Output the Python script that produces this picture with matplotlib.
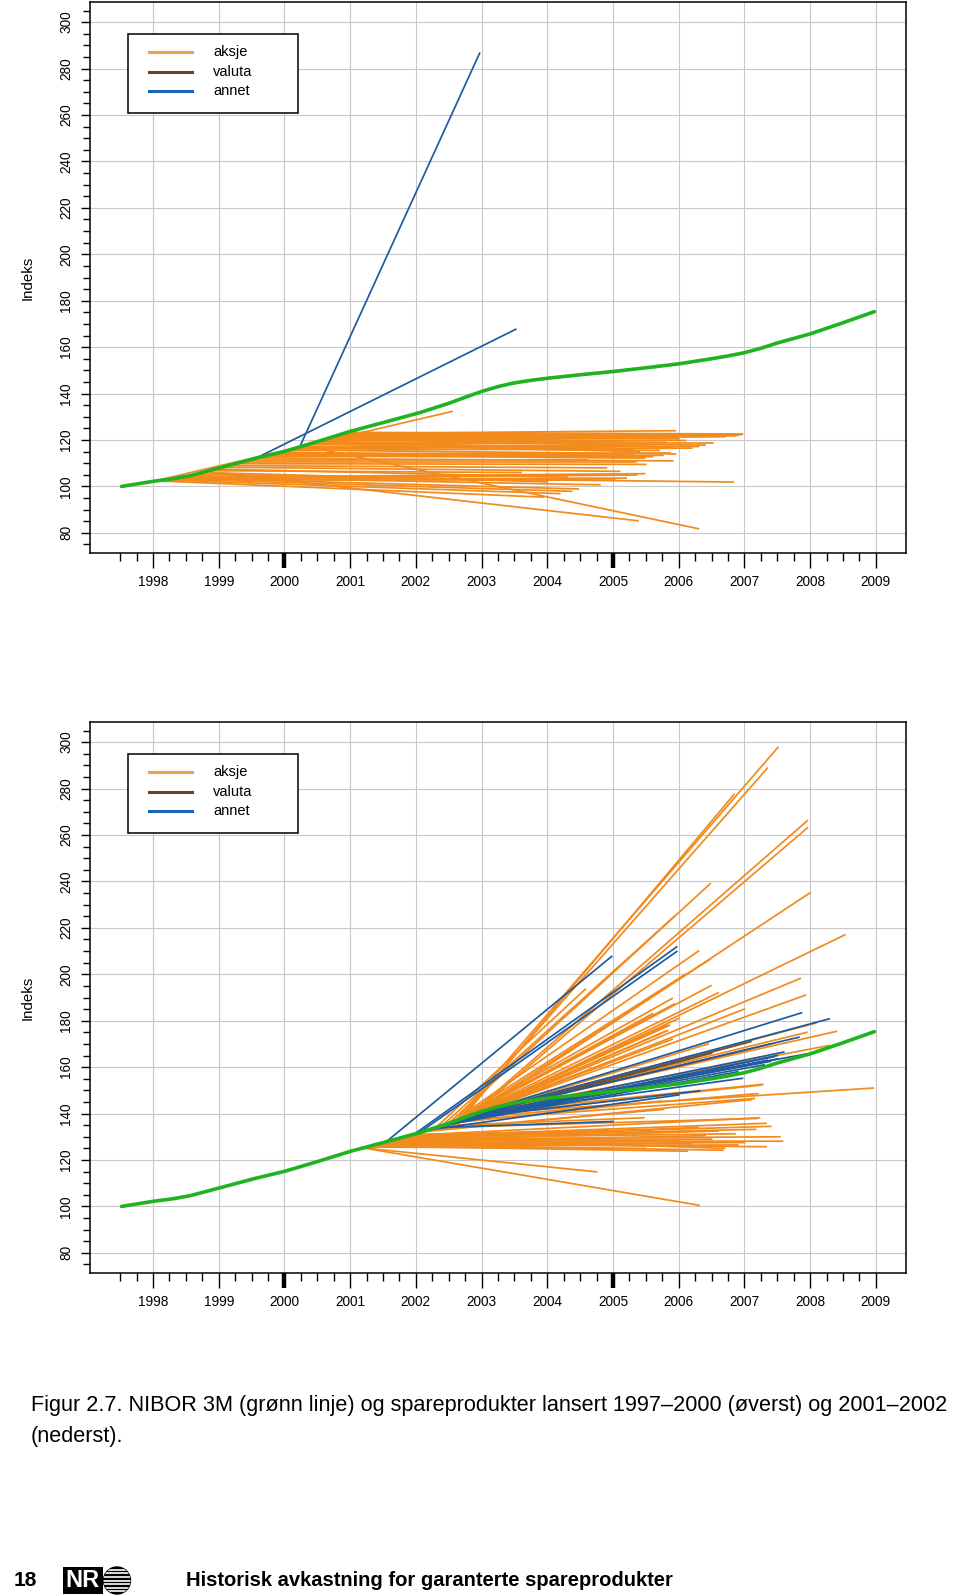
import matplotlib
matplotlib.use("Agg")
import matplotlib.pyplot as plt
from matplotlib.ticker import FixedLocator
from matplotlib.patches import Rectangle, Circle
from matplotlib.lines import Line2D

plt.rcParams['font.family'] = ['Liberation Sans', 'DejaVu Sans']

# NIBOR 3M index (green line)
nibor_year = [1997.52, 1998.0, 1998.3, 1998.56, 1999.0, 1999.57, 2000.0, 2000.5, 2001.0, 2001.5,
              2002.06, 2002.5, 2002.75, 2003.0, 2003.25, 2003.48, 2003.75, 2004.0, 2004.5, 2005.0,
              2005.5, 2006.0, 2006.5, 2006.75, 2007.0, 2007.25, 2007.49, 2008.0, 2008.5, 2008.98]
nibor_val = [100.0, 102.2, 103.3, 104.6, 107.9, 112.2, 115.1, 119.3, 123.7, 127.5,
             131.8, 135.8, 138.4, 140.9, 143.0, 144.5, 145.7, 146.6, 148.1, 149.5,
             151.1, 152.8, 155.0, 156.2, 157.6, 159.5, 161.7, 165.7, 170.5, 175.3]

# products launched 1997-2000 (upper panel)
top_launch = [1998.05, 1998.15, 1998.25, 1998.35, 1998.45, 1998.10, 1998.20, 1998.30, 1998.40,
              1998.55, 1998.80, 2000.30, 1998.00,
              1998.65, 1998.75, 1998.85, 1998.95, 1999.05, 1999.15, 1999.25, 1999.35, 1999.45,
              1999.55, 1999.65, 1999.75, 1999.85, 1999.95,
              2000.05, 2000.15, 2000.25, 2000.35, 2000.45, 2000.55, 2000.60, 2000.65, 2000.70,
              2000.75, 2000.80, 2000.85, 2000.90, 2000.95, 2000.50, 2000.40,
              2000.92, 2000.88, 2000.82, 2000.78, 2000.72, 2000.62, 2000.58, 2000.48, 2000.38,
              2000.28, 2000.18, 2000.08, 1999.90, 1999.80,
              2000.23, 1999.57]
top_launch_val = [102.4, 102.8, 103.3, 103.7, 104.1, 102.6, 103.0, 103.5, 103.9,
                  104.6, 106.4, 117.5, 102.2,
                  105.3, 106.0, 106.8, 107.5, 108.3, 109.0, 109.8, 110.5, 111.3,
                  112.1, 112.7, 113.4, 114.1, 114.8,
                  115.5, 116.2, 117.0, 118.0, 118.8, 119.7, 120.2, 120.6, 121.1,
                  121.5, 122.0, 122.4, 122.8, 123.3, 119.3, 118.4,
                  123.0, 122.6, 122.1, 121.8, 121.2, 120.4, 120.0, 119.1, 118.2,
                  117.3, 116.5, 115.7, 114.4, 113.8,
                  116.9, 112.2]
top_mature = [2003.94, 2004.19, 2004.37, 2004.47, 2004.80, 2005.03, 2005.20, 2005.36, 2005.48,
              2006.83, 2005.38, 2006.30, 2002.55,
              2003.30, 2004.00, 2003.60, 2004.30, 2005.10, 2004.90, 2005.50, 2005.35, 2004.60,
              2005.91, 2005.76, 2005.48, 2005.87, 2005.10,
              2006.20, 2005.60, 2006.30, 2004.90, 2006.52, 2003.90, 2006.70, 2004.20, 2006.85,
              2004.50, 2006.95, 2004.80, 2005.95, 2006.97, 2005.30, 2005.40,
              2006.90, 2006.60, 2005.50, 2006.00, 2005.20, 2006.10, 2005.80, 2006.40, 2005.90,
              2005.00, 2005.70, 2005.95, 2005.30, 2005.60,
              2002.97, 2003.52]
top_end_val = [95.4, 96.9, 97.9, 98.9, 100.7, 102.6, 103.6, 104.9, 105.5,
               101.9, 85.2, 81.8, 132.3,
               103.0, 102.0, 106.0, 104.0, 106.5, 108.0, 109.5, 110.5, 111.5,
               111.0, 113.4, 112.2, 114.4, 112.5,
               116.5, 118.0, 117.2, 119.6, 118.7, 119.5, 121.4, 120.2, 121.8,
               121.0, 122.3, 121.8, 124.0, 122.6, 116.0, 115.0,
               122.0, 122.2, 121.5, 120.5, 120.8, 119.8, 119.0, 117.8, 117.0,
               116.5, 115.5, 114.0, 113.5, 112.8,
               286.6, 167.7]
top_type = ['aksje'] * 57 + ['annet'] * 2

# products launched 2001-2002 (lower panel)
bot_launch = [2001.90, 2001.85, 2001.80, 2001.70, 2001.60, 2001.50, 2001.40, 2001.30, 2001.75,
              2001.65, 2001.55, 2001.45, 2001.35, 2001.25, 2001.20, 2001.20, 2001.95, 2001.90,
              2001.80, 2001.30, 2001.40, 2001.50, 2001.60, 2001.70, 2001.80,
              2002.60, 2002.65, 2002.70, 2002.80, 2002.85, 2002.50, 2002.90, 2002.40, 2002.75,
              2002.95, 2002.90, 2002.70, 2002.95, 2002.55, 2002.30, 2002.60, 2002.80, 2002.85,
              2002.95, 2002.98, 2002.98, 2002.98,
              2002.90, 2002.80, 2002.70, 2002.60, 2002.50, 2002.40, 2002.30, 2002.20, 2002.10,
              2002.95,
              2002.70, 2002.75, 2002.80, 2002.65, 2002.85,
              2002.55, 2002.60, 2002.70, 2002.65, 2002.75, 2002.85,
              2002.70, 2002.60, 2002.80, 2002.50,
              2001.55, 2001.98, 2002.05, 2002.90, 2002.95, 2002.90, 2002.85, 2002.80, 2002.70,
              2002.30, 2002.60, 2002.50, 2002.65, 2002.55, 2002.75,
              2002.35, 2002.45, 2002.40, 2002.20]
bot_launch_val = [130.6, 130.2, 129.8, 129.0, 128.3, 127.5, 126.8, 126.0, 129.4,
                  128.7, 127.9, 127.1, 126.4, 125.6, 125.2, 125.2, 131.0, 130.6,
                  129.8, 126.0, 126.8, 127.5, 128.3, 129.0, 129.8,
                  136.9, 137.4, 137.9, 138.9, 139.4, 135.8, 139.9, 134.8, 138.4,
                  140.4, 139.9, 137.9, 140.4, 136.3, 133.9, 136.9, 138.9, 139.4,
                  140.4, 140.7, 140.7, 140.7,
                  139.9, 138.9, 137.9, 136.9, 135.8, 134.8, 133.9, 133.0, 132.1,
                  140.4,
                  137.9, 138.4, 138.9, 137.4, 139.4,
                  136.3, 136.9, 137.9, 137.4, 138.4, 139.4,
                  137.9, 136.9, 138.9, 135.8,
                  127.9, 131.2, 131.7, 139.9, 140.4, 139.9, 139.4, 138.9, 137.9,
                  133.9, 136.9, 135.8, 137.4, 136.3, 138.4,
                  134.3, 135.3, 134.8, 133.0]
bot_mature = [2007.23, 2007.33, 2007.17, 2007.54, 2007.58, 2007.33, 2006.67, 2006.13, 2006.86,
              2006.50, 2006.20, 2005.90, 2006.00, 2005.50, 2004.75, 2006.31, 2005.60, 2005.20,
              2007.40, 2006.90, 2007.00, 2006.40, 2006.60, 2006.30, 2006.70,
              2007.51, 2007.35, 2006.84, 2007.96, 2007.96, 2006.48, 2008.00, 2005.94, 2006.48,
              2008.53, 2007.85, 2006.49, 2007.93, 2005.90, 2004.58, 2005.93, 2005.83, 2005.83,
              2008.09, 2008.40, 2007.95, 2008.28,
              2008.96, 2007.26, 2007.20, 2007.15, 2005.74, 2005.47, 2007.20, 2005.77, 2007.10,
              2007.28,
              2005.86, 2005.80, 2005.90, 2006.45, 2006.20,
              2006.30, 2006.10, 2006.60, 2005.60, 2006.00, 2007.00,
              2007.10, 2006.50, 2007.40, 2006.80,
              2004.98, 2005.97, 2005.97, 2007.87, 2008.29, 2007.83, 2007.95, 2006.97, 2006.32,
              2005.00, 2007.45, 2007.50, 2007.40, 2007.30, 2007.60,
              2007.50, 2007.35, 2006.90, 2006.00]
bot_end_val = [138.2, 135.8, 133.2, 130.0, 128.1, 125.7, 124.2, 123.8, 131.3,
               129.0, 127.0, 126.0, 128.5, 125.0, 114.9, 100.5, 133.0, 131.0,
               134.5, 126.5, 127.5, 130.5, 132.5, 134.0, 125.0,
               297.7, 288.8, 277.4, 266.2, 263.1, 239.0, 235.1, 225.1, 206.5,
               217.0, 198.2, 195.1, 191.0, 189.6, 193.6, 187.2, 178.2, 175.7,
               179.0, 175.4, 175.0, 169.3,
               151.0, 152.3, 148.6, 146.5, 145.4, 138.2, 137.9, 141.8, 146.0,
               152.6,
               178.0, 175.5, 172.0, 170.0, 165.0,
               210.0, 200.0, 192.0, 183.0, 181.0, 185.0,
               171.0, 166.0, 170.0, 160.0,
               207.7, 211.8, 209.8, 183.4, 180.8, 172.9, 165.7, 155.2, 149.8,
               136.6, 164.5, 163.5, 162.5, 161.0, 166.5,
               165.0, 163.0, 158.0, 148.0]
bot_type = ['aksje'] * 68 + ['valuta'] * 4 + ['annet'] * 19

years = list(range(1998, 2010))
legend_names = ['aksje', 'valuta', 'annet']
line_colors = {'aksje': '#F28A1C', 'valuta': '#74502E', 'annet': '#1F5B9E'}
legend_colors = {'aksje': '#F0A04A', 'valuta': '#6B4420', 'annet': '#1E64B4'}
green = '#1FB31F'

fig = plt.figure(figsize=(9.6, 15.96), dpi=100)


def px_x(px):
    return (px - 90) / 816.0


def px_y(rel):
    return 1 - rel / 551.6


def draw_panel(ax, launch, launch_val, mature, end_val, kind):
    for k in legend_names:
        for x0, y0, x1, y1, t in zip(launch, launch_val, mature, end_val, kind):
            if t == k:
                ax.plot([x0, x1], [y0, y1], color=line_colors[k], lw=1.25, zorder=2)
    ax.plot(nibor_year, nibor_val, color=green, lw=2.6, zorder=4, solid_capstyle='round',
            solid_joinstyle='round')

    ax.set_xlim(1997.04, 2009.46)
    ax.set_ylim(71.2, 308.8)
    ax.xaxis.set_major_locator(FixedLocator(years))
    ax.xaxis.set_minor_locator(FixedLocator([y + q for y in range(1997, 2009) for q in (0.25, 0.5, 0.75)
                                             if y + q >= 1997.5]))
    ax.yaxis.set_major_locator(FixedLocator(list(range(80, 301, 20))))
    ax.yaxis.set_minor_locator(FixedLocator(list(range(75, 306, 5))))
    ax.grid(True, which='major', color='#C8C8C8', lw=0.8, zorder=0)
    ax.set_axisbelow(True)

    ax.tick_params(axis='x', which='major', length=10.8, width=1.0, labelsize=9.8, pad=4.5)
    ax.tick_params(axis='x', which='minor', length=5.8, width=1.0)
    ax.tick_params(axis='y', which='major', length=6.5, width=1.0, labelsize=9.8, pad=5.5,
                   labelrotation=90)
    ax.tick_params(axis='y', which='minor', length=5.4, width=1.0)
    for lab in ax.get_yticklabels():
        lab.set_va('center')
    ticks = ax.xaxis.get_major_ticks()
    for i in (2, 7):
        ticks[i].tick1line.set_markeredgewidth(3.2)
    for sp in ax.spines.values():
        sp.set_linewidth(1.1)

    # legend box
    ax.add_patch(Rectangle((px_x(127.7), px_y(111.6)), px_x(298.3) - px_x(127.7),
                           px_y(32) - px_y(111.6), transform=ax.transAxes,
                           fc='white', ec='black', lw=1.1, zorder=5))
    for i, name in enumerate(legend_names):
        yy = px_y(50.5 + 19.6 * i)
        ax.add_line(Line2D([px_x(149), px_x(191.5)], [yy, yy], transform=ax.transAxes,
                           color=legend_colors[name], lw=2.2, zorder=6))
        ax.text(px_x(213), yy, name, transform=ax.transAxes, fontsize=10.5,
                ha='left', va='center', zorder=6)


ax1 = fig.add_axes([90 / 960, 1 - 553.3 / 1596, 816 / 960, 551.6 / 1596])
draw_panel(ax1, top_launch, top_launch_val, top_mature, top_end_val, top_type)
ax2 = fig.add_axes([90 / 960, 1 - 1273.3 / 1596, 816 / 960, 551.6 / 1596])
draw_panel(ax2, bot_launch, bot_launch_val, bot_mature, bot_end_val, bot_type)

fig.text(27.5 / 960, 1 - 277.5 / 1596, 'Indeks', rotation=90, fontsize=10.8, ha='center', va='center')
fig.text(27.5 / 960, 1 - 997.5 / 1596, 'Indeks', rotation=90, fontsize=10.8, ha='center', va='center')

fig.text(31 / 960, 1 - 1405 / 1596,
         'Figur 2.7. NIBOR 3M (grønn linje) og spareprodukter lansert 1997\u20132000 (øverst) og 2001\u20132002',
         fontsize=15.55, ha='left', va='center')
fig.text(31 / 960, 1 - 1436.5 / 1596, '(nederst).', fontsize=15.55, ha='left', va='center')

narrow = ['Liberation Sans Narrow', 'Liberation Sans', 'DejaVu Sans']
fig.text(14 / 960, 1 - 1581 / 1596, '18', fontsize=15, fontweight='bold', family=narrow,
         ha='left', va='center')
fig.text(186 / 960, 1 - 1581 / 1596, 'Historisk avkastning for garanterte spareprodukter',
         fontsize=14.5, fontweight='bold', family=narrow, ha='left', va='center')

# NR logo
lax = fig.add_axes([60 / 960, 0, 75 / 960, 31 / 1596])
lax.set_xlim(0, 75)
lax.set_ylim(0, 31)
lax.axis('off')
lax.add_patch(Rectangle((3, 2), 40, 27, fc='black', ec='none'))
lax.text(22.5, 15.5, 'NR', color='white', fontsize=17, fontweight='bold', family=narrow,
         ha='center', va='center')
globe = Circle((57, 15.5), 13.5, fc='black', ec='black', lw=1)
lax.add_patch(globe)
for k in range(-3, 4):
    ln = Line2D([40, 75], [15.5 + 3.6 * k, 15.5 + 3.6 * k], color='white', lw=1.2)
    lax.add_line(ln)
    ln.set_clip_path(globe)

fig.savefig('out.png', dpi=100)
